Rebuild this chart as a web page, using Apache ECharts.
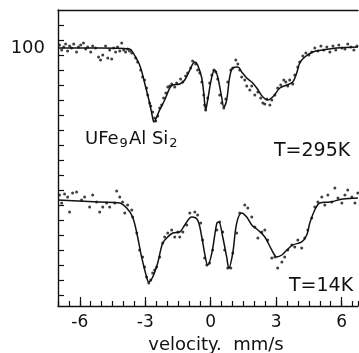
<!DOCTYPE html>
<html>
<head>
<meta charset="utf-8">
<script src="https://cdn.jsdelivr.net/npm/echarts@6/dist/echarts.min.js"></script>
<style>
  html, body { margin: 0; padding: 0; background: #fff; }
  #chart { width: 359px; height: 353px; }
</style>
</head>
<body>
<div id="chart"></div>
<script>
// fitted curve, T = 295 K (velocity mm/s, transmission %)
const fitVel295 = [-7.0, -5.09, -3.72, -3.58, -3.26, -3.03, -2.8, -2.66, -2.61, -2.34, -2.11, -1.88, -1.74, -1.42, -1.19, -0.96, -0.73, -0.6, -0.41, -0.32, -0.23, -0.14, 0.05, 0.18, 0.32, 0.5, 0.6, 0.73, 0.87, 1.01, 1.24, 1.42, 1.65, 1.88, 2.11, 2.39, 2.61, 2.84, 3.17, 3.49, 3.76, 3.94, 4.08, 4.31, 4.68, 5.14, 5.78, 6.75];
const fitTr295 = [100.0, 100.0, 99.93, 99.73, 98.87, 97.67, 96.33, 95.33, 95.07, 95.87, 96.53, 97.33, 97.53, 97.6, 97.87, 98.53, 99.07, 98.87, 98.0, 97.0, 95.87, 96.53, 98.07, 98.53, 98.07, 96.73, 96.07, 96.53, 98.07, 98.67, 98.73, 98.4, 98.0, 97.73, 97.33, 96.73, 96.53, 96.73, 97.33, 97.53, 97.73, 98.33, 99.0, 99.4, 99.73, 99.87, 100.0, 100.07];

// fitted curve, T = 14 K
const fitVel14 = [-7.0, -5.09, -4.17, -3.85, -3.58, -3.35, -3.17, -2.94, -2.84, -2.66, -2.43, -2.2, -1.97, -1.74, -1.42, -1.19, -0.87, -0.6, -0.41, -0.28, -0.14, 0.05, 0.28, 0.37, 0.55, 0.73, 0.83, 1.01, 1.19, 1.42, 1.65, 1.88, 2.16, 2.48, 2.8, 3.03, 3.26, 3.49, 3.76, 4.17, 4.4, 4.54, 4.77, 5.0, 5.46, 6.06, 6.75];
const fitTr14 = [89.87, 89.73, 89.67, 89.33, 88.73, 87.4, 86.07, 84.73, 84.4, 84.73, 85.67, 87.0, 87.4, 87.67, 87.73, 88.2, 88.73, 88.53, 87.4, 86.33, 85.53, 86.33, 88.33, 88.4, 87.4, 86.07, 85.33, 86.33, 88.33, 89.0, 88.73, 88.2, 87.87, 87.4, 86.53, 86.07, 86.2, 86.53, 86.87, 87.07, 87.53, 88.33, 89.2, 89.67, 89.73, 89.93, 90.0];

// measured points, T = 295 K
const dotVel295 = [-6.93, -6.83, -6.74, -6.65, -6.56, -6.47, -6.38, -6.28, -6.15, -6.06, -5.96, -5.83, -5.73, -5.64, -5.5, -5.41, -5.28, -5.14, -5.05, -4.95, -4.82, -4.72, -4.63, -4.54, -4.45, -4.36, -4.27, -4.17, -4.08, -3.99, -3.9, -3.81, -3.72, -3.62, -3.44, -3.35, -3.21, -3.12, -3.03, -2.94, -2.89, -2.8, -2.75, -2.66, -2.57, -2.52, -2.43, -2.34, -2.25, -2.16, -2.06, -1.97, -1.88, -1.79, -1.65, -1.56, -1.38, -1.28, -1.15, -1.06, -0.92, -0.83, -0.69, -0.6, -0.5, -0.41, -0.32, -0.28, -0.23, -0.14, -0.05, 0.05, 0.14, 0.23, 0.32, 0.41, 0.5, 0.6, 0.69, 0.78, 0.92, 1.01, 1.15, 1.24, 1.33, 1.42, 1.56, 1.65, 1.79, 1.88, 2.02, 2.16, 2.29, 2.39, 2.48, 2.57, 2.71, 2.8, 2.94, 3.07, 3.21, 3.35, 3.44, 3.53, 3.62, 3.76, 3.85, 3.99, 4.08, 4.22, 4.36, 4.5, 4.63, 4.77, 4.91, 5.05, 5.18, 5.32, 5.46, 5.6, 5.73, 5.87, 6.01, 6.15, 6.28, 6.42, 6.56, 6.7];
const dotTr295 = [100.2, 99.87, 100.07, 100.27, 99.8, 100.13, 100.0, 100.27, 99.73, 100.07, 100.2, 100.33, 99.93, 100.07, 99.73, 100.13, 100.0, 99.4, 99.2, 99.53, 100.13, 99.33, 99.87, 99.27, 100.0, 99.73, 100.07, 99.8, 100.33, 99.87, 99.73, 99.93, 99.8, 99.67, 99.33, 99.07, 98.53, 98.07, 97.87, 97.33, 96.87, 96.33, 96.13, 95.73, 95.33, 95.13, 95.47, 96.0, 96.2, 96.67, 97.0, 97.4, 97.47, 97.6, 97.4, 97.67, 97.93, 97.73, 98.13, 98.33, 98.67, 99.13, 98.93, 98.53, 98.33, 97.73, 96.87, 96.2, 95.87, 96.67, 97.67, 98.2, 98.53, 98.4, 97.93, 96.87, 96.33, 96.0, 96.6, 97.73, 98.53, 98.67, 99.2, 98.93, 98.53, 98.07, 97.87, 97.47, 97.2, 97.47, 96.87, 97.07, 96.67, 96.33, 96.27, 96.6, 96.2, 96.53, 96.87, 97.33, 97.53, 97.87, 97.73, 97.47, 97.87, 97.6, 98.2, 98.73, 99.07, 99.47, 99.67, 99.53, 99.73, 100.0, 99.8, 100.13, 99.87, 100.07, 99.73, 100.13, 99.87, 100.2, 100.0, 99.93, 100.27, 100.07, 99.87, 100.13];

// measured points, T = 14 K
const dotVel14 = [-6.93, -6.83, -6.7, -6.56, -6.47, -6.33, -6.15, -5.92, -5.78, -5.55, -5.41, -5.23, -5.09, -4.95, -4.77, -4.63, -4.4, -4.31, -4.17, -4.04, -3.94, -3.81, -3.62, -3.58, -3.39, -3.26, -3.12, -3.03, -2.94, -2.84, -2.75, -2.66, -2.57, -2.48, -2.34, -2.2, -2.11, -1.97, -1.79, -1.65, -1.51, -1.42, -1.28, -1.1, -0.96, -0.73, -0.6, -0.46, -0.37, -0.28, -0.18, -0.05, 0.09, 0.28, 0.41, 0.55, 0.64, 0.78, 0.92, 1.01, 1.19, 1.33, 1.56, 1.7, 1.88, 2.02, 2.16, 2.34, 2.48, 2.61, 2.8, 2.94, 3.07, 3.26, 3.39, 3.53, 3.72, 3.85, 3.99, 4.17, 4.31, 4.45, 4.63, 4.77, 4.91, 5.09, 5.23, 5.37, 5.55, 5.69, 5.83, 6.01, 6.15, 6.28, 6.47, 6.61, 6.74];
const dotTr14 = [90.2, 89.67, 90.27, 90.07, 89.07, 90.33, 90.4, 89.87, 90.07, 89.4, 90.2, 89.73, 89.07, 89.4, 89.67, 89.4, 89.67, 90.47, 90.07, 89.73, 89.0, 89.53, 89.2, 88.73, 87.67, 86.53, 86.07, 85.4, 84.73, 84.33, 84.53, 85.0, 85.2, 85.4, 86.07, 87.0, 87.4, 87.67, 87.87, 87.4, 87.73, 87.4, 87.73, 88.2, 89.0, 89.07, 88.87, 88.33, 87.2, 86.0, 85.53, 85.67, 86.53, 87.87, 88.4, 87.73, 86.53, 85.33, 85.33, 86.33, 87.67, 89.0, 89.53, 89.33, 88.73, 88.07, 87.33, 87.73, 87.87, 87.2, 86.0, 86.07, 85.33, 85.73, 86.07, 86.53, 86.87, 86.73, 87.2, 86.67, 87.33, 87.87, 88.67, 89.4, 89.73, 90.07, 89.53, 90.2, 89.73, 90.67, 90.0, 89.67, 90.2, 90.53, 90.07, 89.67, 90.33];

// axis ticks and labels
const xLabelValues = [-6, -3, 0, 3, 6];
const yTickValues = [101.5, 100.5, 99.5, 98.5, 97.5, 96.5, 95.5, 94.5, 93.5, 92.5, 91.5, 90.5, 89.5, 88.5, 87.5, 86.5, 85.5, 84.5, 83.5];
const yLabelValues = [100];

function zip(a, b) {
  return a.map(function (v, i) { return [v, b[i]]; });
}

var ink = "#111";
var font = "DejaVu Sans";
var myChart = echarts.init(document.getElementById("chart"));

var option = {
  animation: false,
  backgroundColor: "#fff",
  grid: { left: 58, right: 1, top: 10, bottom: 47, outerBoundsMode: "none", containLabel: false },
  xAxis: [
    {
      type: "value",
      position: "bottom",
      min: -7,
      max: 6.75,
      name: "velocity.  mm/s",
      nameLocation: "middle",
      nameGap: 25,
      nameTextStyle: { color: ink, fontFamily: font, fontSize: 18, padding: [0, 0, 0, 16] },
      axisLine: { onZero: false, lineStyle: { color: ink, width: 1.4 } },
      axisTick: { inside: true, length: 9, customValues: xLabelValues, lineStyle: { color: ink, width: 1.2 } },
      axisLabel: { customValues: xLabelValues, margin: 8, color: ink, fontFamily: font, fontSize: 17 },
      splitLine: { show: false }
    },
    {
      type: "value",
      position: "bottom",
      min: -7,
      max: 6.75,
      interval: 0.5,
      axisLine: { show: false, onZero: false },
      axisTick: { inside: true, length: 5, lineStyle: { color: ink, width: 1.2 } },
      axisLabel: { show: false },
      splitLine: { show: false }
    },
    {
      type: "value",
      position: "top",
      min: -7,
      max: 6.75,
      axisLine: { onZero: false, lineStyle: { color: ink, width: 1.3 } },
      axisTick: { show: false },
      axisLabel: { show: false },
      splitLine: { show: false }
    }
  ],
  yAxis: {
    type: "value",
    min: 82.8,
    max: 102.533,
    name: "transmission, %",
    nameLocation: "middle",
    nameGap: 28,
    nameRotate: 90,
    nameTextStyle: { color: ink, fontFamily: font, fontSize: 19 },
    axisLine: { show: true, onZero: false, lineStyle: { color: ink, width: 1.4 } },
    axisTick: { show: true, inside: true, length: 6, customValues: yTickValues, lineStyle: { color: ink, width: 1.2 } },
    axisLabel: { customValues: yLabelValues, margin: 13, color: ink, fontFamily: font, fontSize: 18 },
    splitLine: { show: false }
  },
  graphic: [
    {
      type: "text",
      left: 85,
      top: 130,
      style: {
        text: "{m|UFe}{s|9}{m|Al Si}{s|2}",
        rich: {
          m: { fontFamily: font, fontSize: 18, fill: ink },
          s: { fontFamily: font, fontSize: 13, fill: ink, padding: [10, 1, 0, 1] }
        }
      }
    },
    {
      type: "text",
      left: 274,
      top: 142,
      style: { text: "T=295K", fontFamily: font, fontSize: 19, fill: ink }
    },
    {
      type: "text",
      left: 289,
      top: 277,
      style: { text: "T=14K", fontFamily: font, fontSize: 19, fill: ink }
    }
  ],
  series: [
    {
      type: "line",
      data: zip(fitVel295, fitTr295),
      smooth: 0.35,
      showSymbol: false,
      lineStyle: { color: ink, width: 1.5 }
    },
    {
      type: "line",
      data: zip(fitVel14, fitTr14),
      smooth: 0.35,
      showSymbol: false,
      lineStyle: { color: ink, width: 1.5 }
    },
    {
      type: "scatter",
      data: zip(dotVel295, dotTr295),
      symbolSize: 3,
      itemStyle: { color: ink }
    },
    {
      type: "scatter",
      data: zip(dotVel14, dotTr14),
      symbolSize: 3,
      itemStyle: { color: ink }
    }
  ]
};
myChart.setOption(option);

window.onresize = function () {
  myChart.resize();
};
</script>
</body>
</html>
